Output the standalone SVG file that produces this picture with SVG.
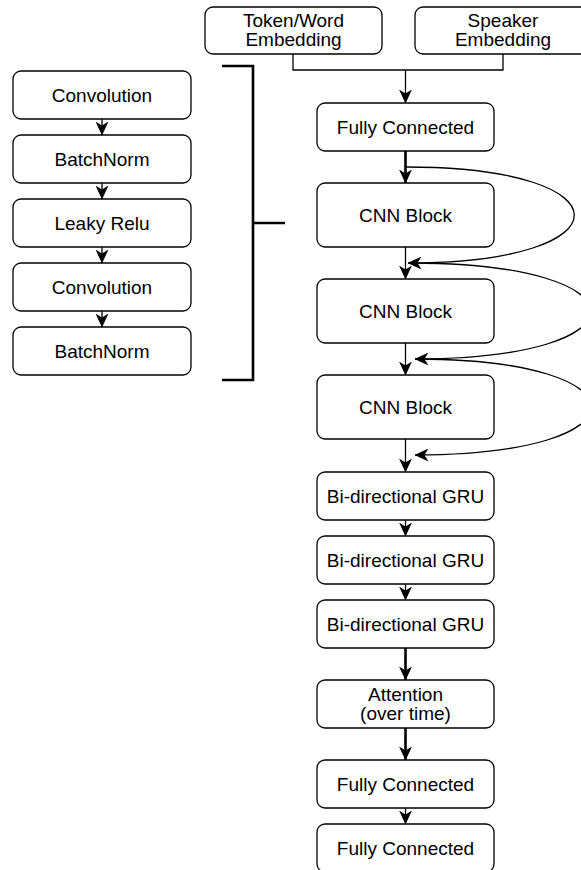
<svg xmlns="http://www.w3.org/2000/svg" width="581" height="870" viewBox="0 0 581 870">
<style>
.box{fill:#fff;stroke:#000;stroke-width:1.3}
.t{font-family:"Liberation Sans",Arial,Helvetica,sans-serif;font-size:19px;fill:#000;text-anchor:middle}
.c{fill:none;stroke:#000;stroke-width:1.3}
.b{fill:none;stroke:#000;stroke-width:2.6}
</style>
<defs>
<marker id="ah" viewBox="0 0 14 13" refX="13.5" refY="6.5" markerWidth="14" markerHeight="13" markerUnits="userSpaceOnUse" orient="auto">
<path d="M0,0 L14,6.5 L0,13 L4,6.5 z" fill="#000"/>
</marker>
</defs>
<rect width="581" height="870" fill="#fff"/>
<g id="connectors">
<path class="c" d="M293,54 V70 H503 V54"/>
<path class="c" d="M405.5,70 V103" marker-end="url(#ah)"/>
<path class="b" d="M405.5,151 V183" marker-end="url(#ah)"/>
<path class="c" d="M405.5,247 V279" marker-end="url(#ah)"/>
<path class="c" d="M405.5,343 V375" marker-end="url(#ah)"/>
<path class="c" d="M405.5,439 V472" marker-end="url(#ah)"/>
<path class="c" d="M406,167 C630,167 630,263 408,263" marker-end="url(#ah)"/>
<path class="c" d="M410,263 C650,263 650,359 415,359" marker-end="url(#ah)"/>
<path class="c" d="M415,359 C650,359 650,455 415,455" marker-end="url(#ah)"/>
<path class="c" d="M405.5,520 V536" marker-end="url(#ah)"/>
<path class="c" d="M405.5,584 V600" marker-end="url(#ah)"/>
<path class="b" d="M405.5,648 V680" marker-end="url(#ah)"/>
<path class="b" d="M405.5,728 V760" marker-end="url(#ah)"/>
<path class="c" d="M405.5,808 V824" marker-end="url(#ah)"/>
<path class="c" d="M102,119 V135" marker-end="url(#ah)"/>
<path class="c" d="M102,183 V199" marker-end="url(#ah)"/>
<path class="c" d="M102,247 V263" marker-end="url(#ah)"/>
<path class="c" d="M102,311 V327" marker-end="url(#ah)"/>
<path class="b" d="M222,66 H253 V380 H222 M253,223 H285"/>
</g>
<g id="token"><rect class="box" x="205" y="7" width="177" height="47" rx="8"/><text class="t" x="293.5" y="27">Token/Word</text><text class="t" x="293.5" y="46">Embedding</text></g>
<g id="speaker"><rect class="box" x="415" y="7" width="176" height="47" rx="8"/><text class="t" x="503" y="27">Speaker</text><text class="t" x="503" y="46">Embedding</text></g>
<g id="fc1"><rect class="box" x="317" y="103" width="177" height="48" rx="8"/><text class="t" x="405.5" y="133.5">Fully Connected</text></g>
<g id="cnn1"><rect class="box" x="317" y="183" width="177" height="64" rx="8"/><text class="t" x="405.5" y="221.5">CNN Block</text></g>
<g id="cnn2"><rect class="box" x="317" y="279" width="177" height="64" rx="8"/><text class="t" x="405.5" y="317.5">CNN Block</text></g>
<g id="cnn3"><rect class="box" x="317" y="375" width="177" height="64" rx="8"/><text class="t" x="405.5" y="413.5">CNN Block</text></g>
<g id="gru1"><rect class="box" x="317" y="472" width="177" height="48" rx="8"/><text class="t" x="405.5" y="502.5">Bi-directional GRU</text></g>
<g id="gru2"><rect class="box" x="317" y="536" width="177" height="48" rx="8"/><text class="t" x="405.5" y="566.5">Bi-directional GRU</text></g>
<g id="gru3"><rect class="box" x="317" y="600" width="177" height="48" rx="8"/><text class="t" x="405.5" y="630.5">Bi-directional GRU</text></g>
<g id="attn"><rect class="box" x="317" y="680" width="177" height="48" rx="8"/><text class="t" x="405.5" y="701">Attention</text><text class="t" x="405.5" y="720">(over time)</text></g>
<g id="fc2"><rect class="box" x="317" y="760" width="177" height="48" rx="8"/><text class="t" x="405.5" y="790.5">Fully Connected</text></g>
<g id="fc3"><rect class="box" x="317" y="824" width="177" height="48" rx="8"/><text class="t" x="405.5" y="854.5">Fully Connected</text></g>
<g id="conv1"><rect class="box" x="13" y="71" width="178" height="48" rx="8"/><text class="t" x="102" y="101.5">Convolution</text></g>
<g id="bn1"><rect class="box" x="13" y="135" width="178" height="48" rx="8"/><text class="t" x="102" y="165.5">BatchNorm</text></g>
<g id="relu"><rect class="box" x="13" y="199" width="178" height="48" rx="8"/><text class="t" x="102" y="229.5">Leaky Relu</text></g>
<g id="conv2"><rect class="box" x="13" y="263" width="178" height="48" rx="8"/><text class="t" x="102" y="293.5">Convolution</text></g>
<g id="bn2"><rect class="box" x="13" y="327" width="178" height="48" rx="8"/><text class="t" x="102" y="357.5">BatchNorm</text></g>
</svg>
